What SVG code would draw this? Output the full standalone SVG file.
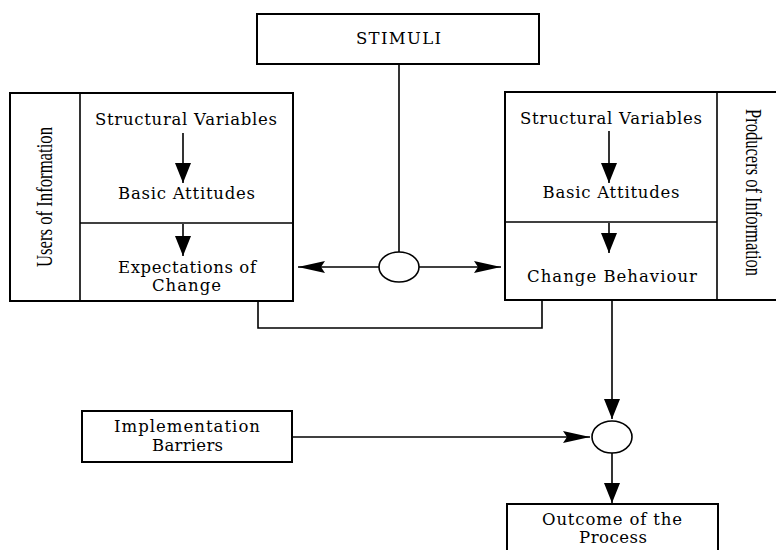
<svg xmlns="http://www.w3.org/2000/svg" width="776" height="550" viewBox="0 0 776 550">
<style>
.box{fill:#fff;stroke:#000;stroke-width:2}
.ln{fill:none;stroke:#000;stroke-width:1.6}
.t{font-family:"DejaVu Serif","Liberation Serif",serif;font-size:16.5px;fill:#000;text-anchor:middle}
.s{font-family:"Liberation Serif","Times New Roman",serif;font-size:23px;fill:#000;text-anchor:middle}
</style>
<defs>
<marker id="av" viewBox="0 0 20 16" refX="20" refY="8" markerWidth="20" markerHeight="16" markerUnits="userSpaceOnUse" orient="auto">
<path d="M0,0 L20,8 L0,16 Z" fill="#000"/>
</marker>
<marker id="ah" viewBox="0 0 27 12" refX="27" refY="6" markerWidth="27" markerHeight="12" markerUnits="userSpaceOnUse" orient="auto">
<path d="M0,0 L27,6 L0,12 L4,6 Z" fill="#000"/>
</marker>
</defs>
<rect width="776" height="550" fill="#fff"/>

<g id="stimuli">
<rect class="box" x="257" y="14" width="282" height="50"/>
<text class="t" x="398.5" y="43.5" textLength="85" lengthAdjust="spacing">STIMULI</text>
</g>

<g id="users">
<rect class="box" x="10" y="93" width="283" height="208"/>
<line class="ln" x1="80" y1="93" x2="80" y2="301" stroke-width="2"/>
<line class="ln" x1="80" y1="223" x2="293" y2="223" stroke-width="2"/>
<text class="s" transform="translate(52,197) rotate(-90)" textLength="140" lengthAdjust="spacingAndGlyphs">Users of Information</text>
<text class="t" x="186" y="125" textLength="182" lengthAdjust="spacing">Structural Variables</text>
<text class="t" x="186.5" y="199" textLength="137" lengthAdjust="spacing">Basic Attitudes</text>
<text class="t" x="187" y="273" textLength="138" lengthAdjust="spacing">Expectations of</text>
<text class="t" x="186.5" y="291" textLength="69" lengthAdjust="spacing">Change</text>
</g>

<g id="producers">
<rect class="box" x="505" y="92" width="280" height="208"/>
<line class="ln" x1="717" y1="92" x2="717" y2="300" stroke-width="2"/>
<line class="ln" x1="505" y1="222" x2="717" y2="222" stroke-width="2"/>
<text class="s" transform="translate(746,192.5) rotate(90)" textLength="167" lengthAdjust="spacingAndGlyphs">Producers of Information</text>
<text class="t" x="611" y="124" textLength="182" lengthAdjust="spacing">Structural Variables</text>
<text class="t" x="611" y="198" textLength="137" lengthAdjust="spacing">Basic Attitudes</text>
<text class="t" x="612" y="282" textLength="170" lengthAdjust="spacing">Change Behaviour</text>
</g>

<g id="barriers">
<rect class="box" x="82" y="411" width="210" height="51"/>
<text class="t" x="187" y="432" textLength="146" lengthAdjust="spacing">Implementation</text>
<text class="t" x="187.5" y="451" textLength="71" lengthAdjust="spacing">Barriers</text>
</g>

<g id="outcome">
<rect class="box" x="507" y="504" width="211" height="60"/>
<text class="t" x="612" y="525" textLength="140" lengthAdjust="spacing">Outcome of the</text>
<text class="t" x="613" y="543" textLength="68" lengthAdjust="spacing">Process</text>
</g>

<g id="connectors">
<line class="ln" x1="399" y1="64" x2="399" y2="252"/>
<line class="ln" x1="379" y1="267" x2="298" y2="267" marker-end="url(#ah)"/>
<line class="ln" x1="419" y1="267" x2="501" y2="267" marker-end="url(#ah)"/>
<polyline class="ln" points="258,301 258,328 542,328 542,301"/>
<line class="ln" x1="183" y1="133" x2="183" y2="183" marker-end="url(#av)"/>
<line class="ln" x1="183" y1="224" x2="183" y2="256" marker-end="url(#av)"/>
<line class="ln" x1="609" y1="131" x2="609" y2="183" marker-end="url(#av)"/>
<line class="ln" x1="609" y1="223" x2="609" y2="253" marker-end="url(#av)"/>
<line class="ln" x1="612" y1="301" x2="612" y2="419" marker-end="url(#av)"/>
<line class="ln" x1="293" y1="437" x2="590" y2="437" marker-end="url(#ah)"/>
<line class="ln" x1="612" y1="453" x2="612" y2="503" marker-end="url(#av)"/>
</g>

<g id="junction1">
<ellipse cx="399" cy="267" rx="20" ry="15" fill="#fff" stroke="#000" stroke-width="1.6"/>
</g>

<g id="junction2">
<ellipse cx="612" cy="437" rx="20" ry="16" fill="#fff" stroke="#000" stroke-width="1.6"/>
</g>
</svg>
